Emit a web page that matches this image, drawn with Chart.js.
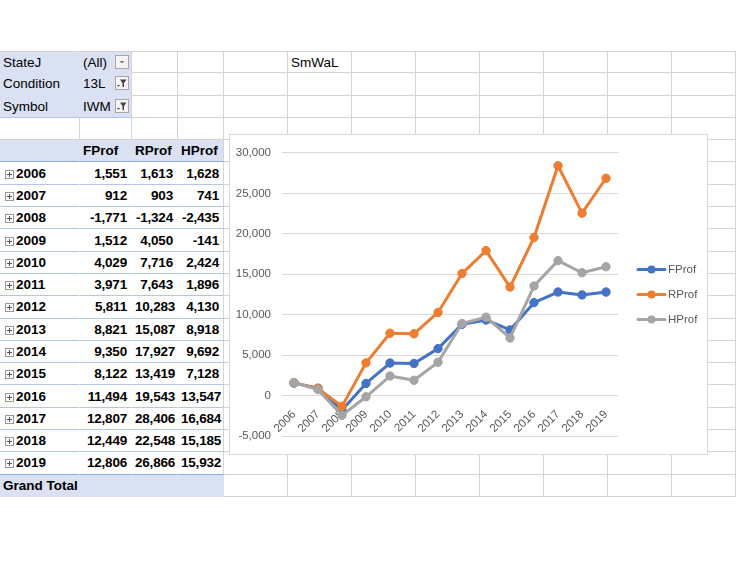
<!DOCTYPE html>
<html>
<head>
<meta charset="utf-8">
<script src="https://cdn.jsdelivr.net/npm/chart.js@4.4.0/dist/chart.umd.min.js"></script>
<style>
  body { margin: 0; width: 736px; height: 564px; background: #fff; position: relative; overflow: hidden;
         font-family: "Liberation Sans", Arial, sans-serif; }
  #sheet { position: absolute; left: 0; top: 51px; border-collapse: separate; border-spacing: 0; table-layout: fixed; width: 736px; }
  #sheet tr { height: 22.3px; }
  #sheet td { box-sizing: border-box; padding: 0 3px; border-right: 1px solid #d4d4d4; border-bottom: 1px solid #d4d4d4;
              font-size: 13.5px; color: #000; white-space: nowrap; overflow: hidden; position: relative; }
  #sheet tr:first-child td { border-top: 1px solid #d4d4d4; }
  #sheet td.pf { background: #d9e1f2; border-bottom-color: #d9e1f2; }
  #sheet td.pfa { border-right-color: #d9e1f2; }
  #sheet td.pflast { border-bottom-color: #b4c6e7; }
  #sheet td.hd { background: #d9e1f2; font-weight: bold; border-bottom-color: #8ea9db; border-right-color: #d9e1f2; }
  #sheet td.yr { font-weight: bold; border-bottom-color: #b4c6e7; border-right-color: #fff; }
  #sheet td.num { text-align: right; padding-right: 4px; letter-spacing: -0.2px; }
  #sheet td.end { border-right-color: #d4d4d4; }
  #sheet td.gt { background: #d9e1f2; font-weight: bold; border-bottom-color: #d9e1f2; border-right-color: #d9e1f2; }
  #sheet tr.lastyr td.yr { border-bottom-color: #8ea9db; }
  .btn { position: absolute; right: 2px; top: 3px; width: 14px; height: 14px; box-sizing: border-box;
         border: 1px solid #a6a6a6; background: #f4f4f4; }
  .btn svg { position: absolute; left: 0; top: 0; }
  .plus { display: inline-block; vertical-align: -1px; margin: 0 2px 0 2px; }
  #box { position: absolute; left: 229px; top: 134px; width: 479px; height: 321px; box-sizing: border-box;
         border: 1px solid #d9d9d9; background: #fff; }
  #box canvas { position: absolute; left: 0; top: 0; }
</style>
</head>
<body>
<table id="sheet">
  <colgroup>
    <col style="width:80px"><col style="width:52px"><col style="width:46px"><col style="width:46px">
    <col style="width:64px"><col style="width:64px"><col style="width:64px"><col style="width:64px">
    <col style="width:64px"><col style="width:64px"><col style="width:64px"><col style="width:64px">
  </colgroup>
  <tbody id="rows"></tbody>
</table>
<div id="box"><canvas id="chart" width="477" height="319"></canvas></div>

<script>
const years = ['2006', '2007', '2008', '2009', '2010', '2011', '2012', '2013', '2014', '2015', '2016', '2017', '2018', '2019'];
const fProf = [1551, 912, -1771, 1512, 4029, 3971, 5811, 8821, 9350, 8122, 11494, 12807, 12449, 12806];
const rProf = [1613, 903, -1324, 4050, 7716, 7643, 10283, 15087, 17927, 13419, 19543, 28406, 22548, 26866];
const hProf = [1628, 741, -2435, -141, 2424, 1896, 4130, 8918, 9692, 7128, 13547, 16684, 15185, 15932];
const seriesNames = ['FProf', 'RProf', 'HProf'];
const seriesColors = ['#4472c4', '#ed7d31', '#a5a5a5'];
const filterNames = ['StateJ', 'Condition', 'Symbol'];
const filterValues = ['(All)', '13L', 'IWM'];

const arrowSvg = '<svg width="12" height="12"><path d="M3.5 5 L8.5 5 L6 7.5 Z" fill="#7f7f7f"/></svg>';
const funnelSvg = '<svg width="12" height="12"><path d="M4 2.5 L10.5 2.5 L8 6 L8 10 L6.5 10 L6.5 6 Z" fill="#404040"/>' +
  '<path d="M1 8 L4 8 L2.5 9.8 Z" fill="#404040"/></svg>';
const plusSvg = '<svg class="plus" width="9" height="9"><rect x="0.5" y="0.5" width="8" height="8" fill="#fff" stroke="#999"/>' +
  '<path d="M2 4.5 H7 M4.5 2 V7" stroke="#555" stroke-width="1"/></svg>';

const fmt = v => v.toLocaleString('en-US');
const blanks = n => '<td></td>'.repeat(n);

let html = '';
// report filter rows
filterNames.forEach((name, i) => {
  const last = i === filterNames.length - 1 ? ' pflast' : '';
  html += '<tr><td class="pf pfa' + last + '">' + name + '</td>' +
    '<td class="pf' + last + '">' + filterValues[i] +
    '<span class="btn">' + (i === 0 ? arrowSvg : funnelSvg) + '</span></td>' +
    blanks(3) + (i === 0 ? '<td>SmWaL</td>' + blanks(6) : blanks(7)) + '</tr>';
});
html += '<tr>' + blanks(12) + '</tr>';
// header row
html += '<tr><td class="hd"></td>' + seriesNames.map((s, i) =>
  '<td class="hd' + (i === 2 ? ' end' : '') + '">' + s + '</td>').join('') + blanks(8) + '</tr>';
// year rows
years.forEach((y, i) => {
  const cls = i === years.length - 1 ? ' class="lastyr"' : '';
  html += '<tr' + cls + '><td class="yr">' + plusSvg + y + '</td>' +
    '<td class="yr num">' + fmt(fProf[i]) + '</td>' +
    '<td class="yr num">' + fmt(rProf[i]) + '</td>' +
    '<td class="yr num end">' + fmt(hProf[i]) + '</td>' + blanks(8) + '</tr>';
});
html += '<tr><td class="gt">Grand Total</td><td class="gt"></td><td class="gt"></td><td class="gt end"></td>' + blanks(8) + '</tr>';
document.getElementById('rows').innerHTML = html;

// legend drawn to the right of the plot, like Excel's
const sideLegend = {
  id: 'sideLegend',
  afterDraw(chart) {
    const ctx = chart.ctx;
    const area = chart.chartArea;
    const x0 = area.right + 20;
    const mid = (area.top + area.bottom) / 2;
    chart.data.datasets.forEach((ds, i) => {
      const y = mid + (i - 1) * 25;
      ctx.save();
      ctx.strokeStyle = ds.borderColor;
      ctx.lineWidth = 3;
      ctx.lineCap = 'round';
      ctx.beginPath();
      ctx.moveTo(x0, y);
      ctx.lineTo(x0 + 27, y);
      ctx.stroke();
      ctx.fillStyle = ds.borderColor;
      ctx.beginPath();
      ctx.arc(x0 + 13.5, y, 4, 0, Math.PI * 2);
      ctx.fill();
      ctx.fillStyle = '#595959';
      ctx.font = '11.5px "Liberation Sans", Arial, sans-serif';
      ctx.textBaseline = 'middle';
      ctx.fillText(ds.label, x0 + 30, y);
      ctx.restore();
    });
  }
};

const dataSets = [fProf, rProf, hProf].map((vals, i) => ({
  label: seriesNames[i],
  data: vals,
  borderColor: seriesColors[i],
  backgroundColor: seriesColors[i],
  pointBackgroundColor: seriesColors[i],
  pointBorderColor: seriesColors[i],
  borderWidth: 3,
  pointRadius: 4.2,
  pointBorderWidth: 1,
  borderJoinStyle: 'round',
  borderCapStyle: 'round',
  tension: 0,
  order: 2 - i
}));

Chart.defaults.font.family = '"Liberation Sans", Arial, sans-serif';
Chart.defaults.color = '#595959';

new Chart(document.getElementById('chart'), {
  type: 'line',
  data: { labels: years, datasets: dataSets },
  plugins: [sideLegend],
  options: {
    responsive: false,
    animation: false,
    events: [],
    layout: { padding: { left: 0, right: 89, top: 15, bottom: 15 } },
    plugins: { legend: { display: false }, tooltip: { enabled: false } },
    scales: {
      x: {
        offset: true,
        position: { y: 0 },
        grid: { display: false, drawTicks: false },
        border: { display: false },
        ticks: { minRotation: 45, maxRotation: 45, padding: 12, font: { size: 11.5 } },
        afterFit(s) { s.height = 0; }
      },
      y: {
        min: -5000,
        max: 30000,
        ticks: { stepSize: 5000, padding: 11, font: { size: 11.5 } },
        grid: { color: '#d9d9d9', drawTicks: false },
        border: { display: false },
        afterFit(s) { s.width = 52; }
      }
    }
  }
});
</script>
</body>
</html>
